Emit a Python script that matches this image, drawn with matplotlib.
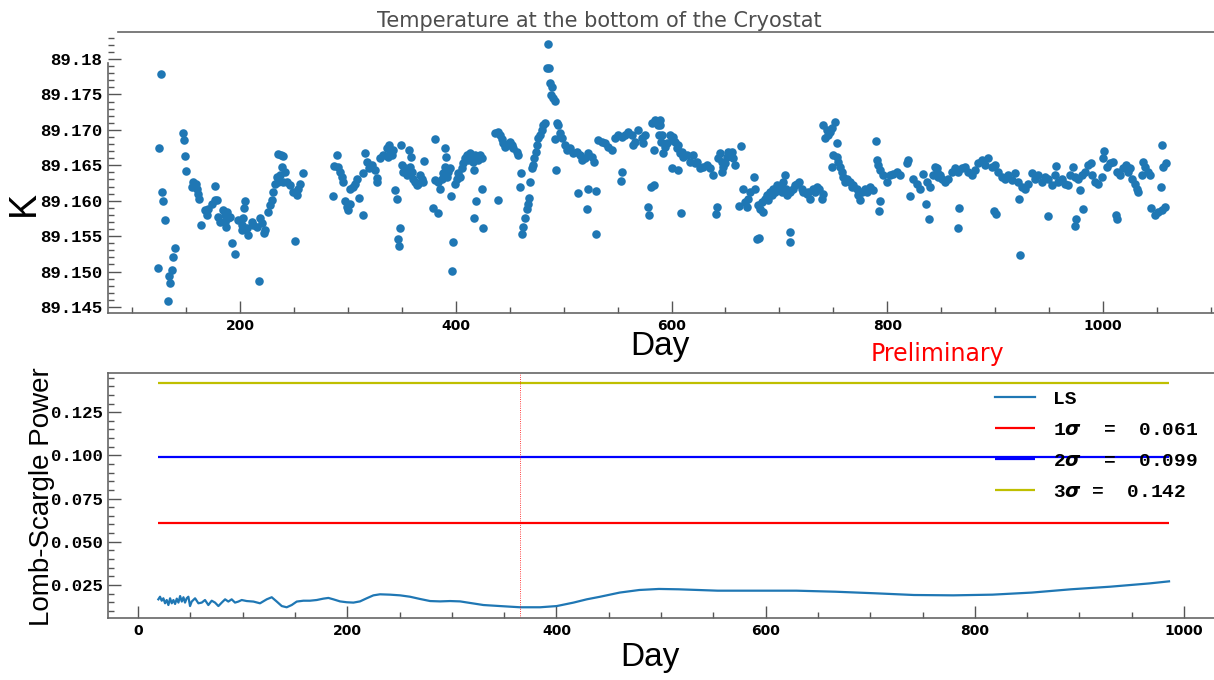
import matplotlib.pyplot as plt
from matplotlib.ticker import MultipleLocator, FixedLocator, FixedFormatter

# Cryostat bottom temperature, one point per day [day, K]
day = [126.8, 124.9, 123.7, 127.7, 128.9, 130.5, 133.0, 135.1, 134.5, 137.0, 138.2, 139.4,
       147.2, 148.1, 149.3, 150.3, 155.5, 156.8, 159.2, 160.5, 161.4, 162.3, 163.5, 167.6,
       169.1, 170.7, 173.7, 176.8, 176.8, 178.4, 179.9, 181.5, 184.6, 186.1, 187.0, 187.7,
       189.2, 190.7, 186.1, 192.3, 195.1, 198.5, 201.6, 201.6, 203.1, 204.0, 204.6, 206.2,
       207.7, 210.8, 212.4, 215.5, 217.9, 218.6, 220.1, 222.3, 223.2, 226.3, 227.8, 229.4,
       230.9, 232.5, 234.0, 234.9, 235.5, 237.1, 237.7, 238.6, 240.2, 240.2, 241.7, 243.3,
       246.4, 249.5, 251.0, 252.5, 254.1, 255.6, 258.1, 285.9, 287.1, 289.6, 291.2, 292.7,
       294.3, 295.8, 297.3, 298.9, 300.4, 302.0, 302.0, 304.5, 306.6, 308.8, 310.6, 313.7,
       314.3, 315.9, 317.4, 319.9, 322.1, 325.2, 326.7, 326.7, 329.8, 332.9, 336.0, 338.4,
       339.0, 340.6, 342.1, 337.5, 349.2, 349.9, 351.4, 353.0, 354.5, 356.0, 357.6, 359.1,
       360.7, 362.2, 363.8, 365.3, 366.8, 368.4, 369.9, 357.0, 358.5, 370.9, 343.7, 345.2,
       348.3, 346.8, 347.4, 380.8, 379.2, 383.2, 380.8, 383.8, 385.4, 386.9, 388.5, 390.0,
       391.6, 393.1, 394.7, 390.0, 390.6, 395.6, 397.4, 396.2, 399.3, 400.8, 402.4, 403.9,
       405.5, 407.0, 408.6, 410.1, 411.7, 413.2, 414.8, 416.3, 417.8, 419.4, 420.9, 422.5,
       424.0, 417.2, 424.6, 418.4, 417.2, 425.6, 439.5, 436.4, 439.5, 441.0, 442.6, 444.1,
       445.6, 448.7, 450.3, 451.8, 453.4, 456.5, 458.0, 460.5, 459.5, 461.7, 462.6, 464.2,
       465.7, 466.7, 467.9, 469.1, 470.4, 471.6, 472.8, 474.1, 475.3, 476.5, 478.1, 479.6,
       481.2, 482.7, 485.2, 484.3, 486.4, 487.4, 488.3, 488.9, 490.4, 492.0, 492.0, 493.5,
       495.1, 496.6, 498.2, 501.3, 502.8, 505.9, 509.0, 512.1, 515.2, 516.7, 519.8, 522.9,
       526.0, 528.5, 492.9, 513.6, 522.3, 529.7, 522.0, 530.0, 532.2, 535.3, 538.3, 541.4,
       544.5, 547.6, 550.7, 553.8, 556.9, 560.0, 563.1, 564.6, 566.2, 569.2, 572.3, 573.9,
       575.4, 554.4, 553.2, 578.5, 579.1, 581.0, 584.1, 581.6, 584.7, 587.2, 588.4, 590.3,
       592.4, 584.1, 589.3, 589.3, 590.8, 593.9, 595.5, 598.6, 600.1, 601.7, 603.2, 604.8,
       606.3, 607.8, 609.4, 610.9, 614.0, 617.1, 620.2, 621.7, 623.3, 626.4, 629.5, 632.6,
       635.7, 638.7, 600.1, 606.3, 608.8, 641.8, 641.2, 643.4, 644.9, 646.5, 648.0, 649.6,
       651.1, 652.7, 654.2, 655.7, 657.3, 658.8, 664.4, 646.5, 662.8, 665.9, 668.1, 669.6,
       671.2, 672.7, 676.7, 677.4, 678.9, 680.8, 680.5, 682.0, 683.6, 685.1, 686.6, 688.2,
       689.7, 691.3, 692.8, 694.4, 695.9, 697.5, 699.0, 700.5, 702.1, 703.6, 705.2, 706.1,
       707.3, 709.8, 712.9, 714.4, 716.0, 718.5, 720.6, 722.2, 725.3, 726.8, 728.4, 731.4,
       733.0, 734.5, 737.0, 739.2, 740.7, 709.8, 709.8, 740.7, 743.8, 745.3, 746.9, 748.4,
       751.5, 753.1, 742.2, 748.4, 750.0, 753.1, 754.6, 756.2, 757.7, 759.3, 760.8, 762.3,
       765.4, 767.0, 768.5, 771.6, 773.2, 774.7, 776.2, 779.3, 780.9, 784.0, 787.1, 789.5,
       790.2, 791.7, 793.2, 796.3, 799.4, 802.5, 805.6, 808.7, 811.8, 818.0, 819.5, 793.2,
       792.3, 821.1, 824.1, 827.2, 830.3, 833.4, 836.5, 839.6, 842.7, 845.8, 848.9, 835.9,
       838.4, 844.3, 845.8, 847.4, 850.5, 853.6, 856.7, 859.8, 862.8, 865.9, 869.0, 872.1,
       875.2, 878.3, 881.4, 884.5, 887.6, 890.7, 893.7, 896.8, 899.9, 903.0, 906.1, 909.2,
       912.3, 915.4, 918.5, 921.6, 924.6, 927.7, 930.8, 933.9, 937.0, 940.1, 943.2, 946.3,
       949.4, 952.5, 955.5, 956.5, 958.6, 961.7, 964.8, 967.9, 969.4, 971.9, 974.1, 977.2,
       980.3, 983.4, 986.4, 988.6, 989.5, 992.6, 995.7, 998.8, 1000.3, 1001.0, 1003.4, 1006.5,
       1009.6, 1012.7, 1015.8, 1018.9, 1021.0, 1023.5, 1025.1, 1026.6, 1029.7, 1031.2, 1032.8, 1035.9,
       1037.4, 1039.0, 1042.1, 1043.6, 866.5, 865.9, 899.3, 900.5, 922.5, 923.1, 948.7, 974.7,
       974.1, 978.7, 981.8, 1011.8, 1012.7, 1044.5, 1048.2, 1051.3, 1054.4, 1057.5, 1053.8, 1055.0,
       1056.0, 1058.1]
temp = [89.1779, 89.1675, 89.1505, 89.1613, 89.1599, 89.1573, 89.1459, 89.1484, 89.1494, 89.1502, 89.1520, 89.1533,
        89.1696, 89.1685, 89.1663, 89.1642, 89.1619, 89.1627, 89.1624, 89.1617, 89.1609, 89.1603, 89.1566, 89.1587,
        89.1580, 89.1589, 89.1596, 89.1601, 89.1621, 89.1601, 89.1577, 89.1570, 89.1587, 89.1580, 89.1563, 89.1584,
        89.1575, 89.1577, 89.1570, 89.1541, 89.1525, 89.1573, 89.1566, 89.1558, 89.1575, 89.1590, 89.1599, 89.1561,
        89.1551, 89.1570, 89.1566, 89.1563, 89.1487, 89.1575, 89.1568, 89.1554, 89.1559, 89.1584, 89.1594, 89.1601,
        89.1613, 89.1624, 89.1634, 89.1666, 89.1627, 89.1636, 89.1664, 89.1648, 89.1627, 89.1663, 89.1641, 89.1627,
        89.1622, 89.1613, 89.1543, 89.1608, 89.1617, 89.1624, 89.1639, 89.1607, 89.1649, 89.1664, 89.1648, 89.1641,
        89.1634, 89.1627, 89.1599, 89.1591, 89.1587, 89.1596, 89.1617, 89.1620, 89.1624, 89.1631, 89.1604, 89.1580,
        89.1639, 89.1667, 89.1655, 89.1646, 89.1650, 89.1643, 89.1632, 89.1627, 89.1660, 89.1664, 89.1674, 89.1679,
        89.1669, 89.1664, 89.1671, 89.1662, 89.1679, 89.1650, 89.1641, 89.1646, 89.1636, 89.1643, 89.1648, 89.1641,
        89.1631, 89.1627, 89.1622, 89.1624, 89.1636, 89.1631, 89.1627, 89.1671, 89.1662, 89.1656, 89.1615, 89.1603,
        89.1562, 89.1546, 89.1536, 89.1687, 89.1590, 89.1583, 89.1629, 89.1627, 89.1617, 89.1631, 89.1639, 89.1648,
        89.1634, 89.1641, 89.1646, 89.1674, 89.1662, 89.1607, 89.1542, 89.1501, 89.1624, 89.1631, 89.1639, 89.1634,
        89.1646, 89.1653, 89.1660, 89.1664, 89.1657, 89.1667, 89.1660, 89.1655, 89.1664, 89.1662, 89.1657, 89.1664,
        89.1660, 89.1643, 89.1617, 89.1599, 89.1576, 89.1561, 89.1601, 89.1696, 89.1697, 89.1693, 89.1687, 89.1681,
        89.1676, 89.1679, 89.1683, 89.1679, 89.1674, 89.1669, 89.1665, 89.1639, 89.1620, 89.1553, 89.1563, 89.1576,
        89.1588, 89.1596, 89.1604, 89.1627, 89.1646, 89.1650, 89.1660, 89.1669, 89.1679, 89.1688, 89.1693, 89.1700,
        89.1707, 89.1709, 89.1821, 89.1788, 89.1788, 89.1766, 89.1749, 89.1760, 89.1745, 89.1741, 89.1687, 89.1709,
        89.1707, 89.1695, 89.1688, 89.1679, 89.1672, 89.1674, 89.1667, 89.1669, 89.1664, 89.1657, 89.1660, 89.1667,
        89.1662, 89.1655, 89.1644, 89.1611, 89.1617, 89.1614, 89.1589, 89.1553, 89.1686, 89.1683, 89.1681, 89.1676,
        89.1672, 89.1688, 89.1693, 89.1690, 89.1693, 89.1697, 89.1693, 89.1679, 89.1683, 89.1700, 89.1688, 89.1681,
        89.1693, 89.1641, 89.1628, 89.1591, 89.1580, 89.1620, 89.1622, 89.1709, 89.1714, 89.1707, 89.1693, 89.1683,
        89.1667, 89.1672, 89.1714, 89.1707, 89.1693, 89.1676, 89.1681, 89.1693, 89.1686, 89.1690, 89.1683, 89.1674,
        89.1679, 89.1667, 89.1669, 89.1662, 89.1664, 89.1655, 89.1664, 89.1653, 89.1655, 89.1646, 89.1648, 89.1650,
        89.1646, 89.1636, 89.1646, 89.1643, 89.1582, 89.1591, 89.1581, 89.1660, 89.1667, 89.1655, 89.1648, 89.1653,
        89.1662, 89.1669, 89.1664, 89.1669, 89.1660, 89.1650, 89.1677, 89.1641, 89.1592, 89.1617, 89.1598, 89.1591,
        89.1603, 89.1613, 89.1633, 89.1617, 89.1546, 89.1548, 89.1594, 89.1589, 89.1598, 89.1584, 89.1603, 89.1608,
        89.1601, 89.1613, 89.1608, 89.1617, 89.1613, 89.1622, 89.1615, 89.1620, 89.1613, 89.1627, 89.1636, 89.1617,
        89.1608, 89.1613, 89.1617, 89.1622, 89.1624, 89.1627, 89.1617, 89.1613, 89.1610, 89.1613, 89.1603, 89.1617,
        89.1613, 89.1620, 89.1617, 89.1603, 89.1610, 89.1556, 89.1542, 89.1707, 89.1700, 89.1693, 89.1697, 89.1702,
        89.1711, 89.1682, 89.1688, 89.1647, 89.1664, 89.1662, 89.1655, 89.1648, 89.1641, 89.1634, 89.1627, 89.1631,
        89.1627, 89.1620, 89.1622, 89.1617, 89.1608, 89.1601, 89.1613, 89.1617, 89.1613, 89.1620, 89.1615, 89.1684,
        89.1657, 89.1650, 89.1643, 89.1636, 89.1627, 89.1636, 89.1638, 89.1641, 89.1636, 89.1653, 89.1657, 89.1599,
        89.1586, 89.1606, 89.1631, 89.1624, 89.1617, 89.1638, 89.1627, 89.1620, 89.1636, 89.1646, 89.1636, 89.1596,
        89.1574, 89.1648, 89.1641, 89.1634, 89.1631, 89.1627, 89.1631, 89.1641, 89.1646, 89.1641, 89.1646, 89.1648,
        89.1641, 89.1636, 89.1643, 89.1653, 89.1657, 89.1650, 89.1660, 89.1648, 89.1650, 89.1641, 89.1634, 89.1631,
        89.1636, 89.1629, 89.1639, 89.1627, 89.1620, 89.1617, 89.1624, 89.1639, 89.1631, 89.1636, 89.1627, 89.1634,
        89.1631, 89.1622, 89.1636, 89.1649, 89.1627, 89.1631, 89.1624, 89.1622, 89.1636, 89.1648, 89.1634, 89.1631,
        89.1636, 89.1641, 89.1650, 89.1653, 89.1636, 89.1627, 89.1624, 89.1634, 89.1660, 89.1670, 89.1648, 89.1653,
        89.1655, 89.1641, 89.1636, 89.1646, 89.1650, 89.1641, 89.1646, 89.1631, 89.1624, 89.1617, 89.1613, 89.1636,
        89.1655, 89.1648, 89.1641, 89.1636, 89.1590, 89.1562, 89.1586, 89.1581, 89.1603, 89.1523, 89.1578, 89.1574,
        89.1564, 89.1615, 89.1589, 89.1580, 89.1574, 89.1590, 89.1580, 89.1584, 89.1587, 89.1591, 89.1619, 89.1679,
        89.1648, 89.1653]

# Lomb-Scargle periodogram [period in days, power]
ls_day = [19.4, 21.0, 22.6, 24.2, 25.8, 27.4, 29.0, 30.6, 32.2, 33.8, 35.4, 37.0, 38.6, 40.2,
          41.8, 43.4, 44.9, 46.5, 48.1, 49.7, 51.3, 54.5, 57.7, 60.9, 64.0, 67.2, 70.4, 73.6,
          76.8, 80.0, 83.2, 86.3, 89.5, 92.7, 95.9, 99.1, 103.9, 110.3, 116.6, 123.0, 127.8,
          132.6, 137.4, 142.1, 146.9, 151.7, 158.1, 164.4, 170.8, 177.2, 182.0, 186.7, 193.1,
          199.5, 205.9, 212.2, 218.6, 225.0, 231.3, 240.9, 250.5, 260.0, 269.6, 279.2, 288.7,
          298.3, 307.9, 317.4, 330.2, 346.1, 365.2, 384.4, 400.3, 416.3, 429.0, 441.8, 460.5,
          479.2, 498.0, 516.7, 554.2, 591.7, 629.3, 666.8, 704.3, 741.8, 779.3, 816.9, 854.4,
          891.9, 929.4, 966.9, 985.7]
ls_power = [0.0167, 0.0182, 0.0159, 0.0173, 0.0144, 0.0163, 0.0134, 0.0173, 0.0144, 0.0163, 0.0140,
            0.0171, 0.0148, 0.0186, 0.0154, 0.0179, 0.0148, 0.0173, 0.0182, 0.0128, 0.0154, 0.0173,
            0.0144, 0.0148, 0.0163, 0.0134, 0.0159, 0.0148, 0.0128, 0.0148, 0.0167, 0.0154, 0.0167,
            0.0148, 0.0154, 0.0163, 0.0157, 0.0154, 0.0144, 0.0167, 0.0179, 0.0154, 0.0128, 0.0121,
            0.0134, 0.0154, 0.0159, 0.0159, 0.0163, 0.0171, 0.0175, 0.0167, 0.0155, 0.0150, 0.0148,
            0.0155, 0.0173, 0.0190, 0.0196, 0.0194, 0.0190, 0.0182, 0.0169, 0.0157, 0.0155, 0.0157,
            0.0155, 0.0146, 0.0134, 0.0128, 0.0121, 0.0121, 0.0128, 0.0148, 0.0167, 0.0182, 0.0206,
            0.0221, 0.0227, 0.0225, 0.0217, 0.0217, 0.0217, 0.0211, 0.0202, 0.0192, 0.0190, 0.0194,
            0.0206, 0.0225, 0.0240, 0.0259, 0.0271]

# false alarm levels
sigma_levels = [0.061, 0.099, 0.142]
sigma_colors = ['red', 'blue', 'y']
sigma_labels = [r'1$\boldsymbol{\sigma}$  =  0.061',
                r'2$\boldsymbol{\sigma}$  =  0.099',
                r'3$\boldsymbol{\sigma}$ =  0.142']

k_ticks = [89.145, 89.150, 89.155, 89.160, 89.165, 89.170, 89.175, 89.180]
k_tick_labels = ['89.145', '89.150', '89.155', '89.160', '89.165', '89.170', '89.175', '89.18']
pow_ticks = [0.025, 0.050, 0.075, 0.100, 0.125]
pow_tick_labels = ['0.025', '0.050', '0.075', '0.100', '0.125']

fig = plt.figure(figsize=(12.14, 6.8), dpi=100)
ax1 = fig.add_axes([0.089, 0.5397, 0.911, 0.4135])
ax2 = fig.add_axes([0.089, 0.0912, 0.911, 0.3603])

mono = {'family': 'Liberation Mono', 'weight': 'bold', 'size': 12.5}
spine_col = '#666666'

# ---- temperature vs day ----
ax1.scatter(day, temp, s=38, color='#1f77b4', linewidths=0, zorder=3)
ax1.set_xlim(77.6, 1102.9)
ax1.set_ylim(89.14415, 89.18384)
ax1.spines['right'].set_visible(False)
ax1.spines['left'].set_bounds(89.14415, 89.1795)
ax1.spines['top'].set_bounds(86.9, 1102.9)

ax1.yaxis.set_major_locator(FixedLocator(k_ticks))
ax1.yaxis.set_major_formatter(FixedFormatter(k_tick_labels))
ax1.yaxis.set_minor_locator(MultipleLocator(0.001))
ax1.xaxis.set_major_locator(MultipleLocator(200))
ax1.xaxis.set_minor_locator(MultipleLocator(50))

ax1.set_ylabel('K', fontsize=27, family='Liberation Sans')
ax1.yaxis.set_label_coords(-0.0597, 0.391)
ax1.set_xlabel('Day', fontsize=24, family='Liberation Sans')
ax1.xaxis.set_label_coords(0.499, -0.064)

# ---- periodogram ----
ax2.plot(ls_day, ls_power, color='#1f77b4', lw=1.6, label='LS')
for lev, col, lab in zip(sigma_levels, sigma_colors, sigma_labels):
    ax2.hlines(lev, ls_day[0], ls_day[-1], color=col, lw=1.6, label=lab)
ax2.axvline(365, color='red', ls=':', lw=0.6)

ax2.set_xlim(-28.7, 1028.7)
ax2.set_ylim(0.0059, 0.14768)
ax2.spines['right'].set_visible(False)
ax2.yaxis.set_major_locator(FixedLocator(pow_ticks))
ax2.yaxis.set_major_formatter(FixedFormatter(pow_tick_labels))
ax2.yaxis.set_minor_locator(MultipleLocator(0.005))
ax2.xaxis.set_major_locator(MultipleLocator(200))
ax2.xaxis.set_minor_locator(MultipleLocator(50))

ax2.set_ylabel('Lomb-Scargle Power', fontsize=20, family='Liberation Sans')
ax2.yaxis.set_label_coords(-0.0479, 0.494)
ax2.set_xlabel('Day', fontsize=24, family='Liberation Sans')
ax2.xaxis.set_label_coords(0.490, -0.098)

ax2.legend(loc='upper left', bbox_to_anchor=(0.8196, 0.4265), bbox_transform=fig.transFigure,
           frameon=False, borderpad=0, borderaxespad=0, handlelength=2.06, handletextpad=0.93,
           labelspacing=0.7, prop={'family': 'Liberation Mono', 'weight': 'bold', 'size': 14})

# shared axis styling
for ax in (ax1, ax2):
    for sp in ax.spines.values():
        sp.set_color(spine_col)
        sp.set_linewidth(1.2)
    ax.tick_params(which='both', direction='in', color='#555555', width=1.0,
                   top=False, right=False)
    ax.tick_params(which='major', length=9)
    ax.tick_params(which='minor', length=4.5)
    ax.tick_params(axis='y', pad=4)
    ax.tick_params(axis='x', pad=4)
    for lbl in ax.get_yticklabels():
        lbl.set_fontproperties(mono)
    for lbl in ax.get_xticklabels():
        lbl.set_family('DejaVu Sans')
        lbl.set_weight('bold')
        lbl.set_size(10)

fig.text(0.494, 1 - 27 / 680, 'Temperature at the bottom of the Cryostat', ha='center',
         va='baseline', fontsize=15, color='#4d4d4d')
fig.text(871 / 1214, 1 - 361 / 680, 'Preliminary', color='red', fontsize=17, va='baseline')

fig.savefig('out.png', dpi=100)
